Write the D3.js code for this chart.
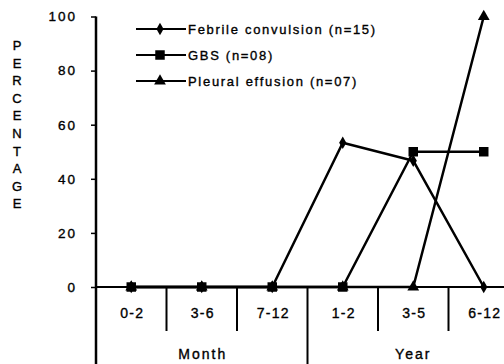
<!DOCTYPE html>
<html>
<head>
<meta charset="utf-8">
<script src="https://cdn.jsdelivr.net/npm/d3@7"></script>
<style>
  html, body { margin: 0; padding: 0; background: #fff; }
  svg { display: block; font-family: "Liberation Sans", Arial, sans-serif; }
  text { fill: #000; stroke: #000; stroke-width: 0.35px; }
</style>
</head>
<body>
<svg id="chart" width="504" height="364"></svg>
<script>
// Age groups along the x axis
const categories = ["0-2", "3-6", "7-12", "1-2", "3-5", "6-12"];
// Percentage of cases in each age group
const febrile = [0, 0, 0, 53.3, 46.7, 0];
const gbs = [0, 0, 0, 0, 50, 50];
const pleural = [0, 0, 0, 0, 0, 100];
const yTicks = [0, 20, 40, 60, 80, 100];
const seriesNames = ["Febrile convulsion (n=15)", "GBS (n=08)", "Pleural effusion (n=07)"];
const groupLabels = ["Month", "Year"];

const svg = d3.select("#chart");
const x0 = 96, bw = 70.5;
const x = d3.scaleBand().domain(categories).range([x0, x0 + bw * categories.length]);
const y = d3.scaleLinear().domain([0, 100]).range([287, 16.5]);

// y axis
const yAxis = d3.axisLeft(y).tickValues(yTicks).tickSize(5).tickPadding(14);
const gy = svg.append("g").attr("transform", `translate(${x0},0)`).call(yAxis);
gy.select(".domain").remove();
gy.selectAll("line").attr("stroke", "#000").attr("stroke-width", 1.5);
gy.selectAll("text").attr("font-size", 13.5).attr("letter-spacing", 2)
  .attr("font-family", "Liberation Sans, Arial, sans-serif");
svg.append("line").attr("x1", x0).attr("x2", x0).attr("y1", y(100)).attr("y2", 364)
  .attr("stroke", "#000").attr("stroke-width", 2.5);

// baseline
svg.append("line").attr("x1", x0).attr("x2", 504).attr("y1", y(0)).attr("y2", y(0))
  .attr("stroke", "#000").attr("stroke-width", 2);

// category separators; the month/year boundary runs to the bottom
categories.forEach((c, i) => {
  if (i === 0) return;
  const xs = x(c);
  svg.append("line").attr("x1", xs).attr("x2", xs).attr("y1", y(0))
    .attr("y2", i === 3 ? 364 : 331).attr("stroke", "#000").attr("stroke-width", 2);
});

// category labels
svg.selectAll("text.cat").data(categories).enter().append("text")
  .attr("class", "cat").attr("x", d => x(d) + x.bandwidth() / 2 + 1).attr("y", 318)
  .attr("text-anchor", "middle").attr("font-size", 14).attr("letter-spacing", 1.3).text(d => d);

// group labels
svg.append("text").attr("x", (x(categories[0]) + x(categories[2]) + x.bandwidth()) / 2 + 1).attr("y", 359)
  .attr("text-anchor", "middle").attr("font-size", 14).attr("letter-spacing", 2).text(groupLabels[0]);
svg.append("text").attr("x", x(categories[4]) + x.bandwidth() / 2).attr("y", 359)
  .attr("text-anchor", "middle").attr("font-size", 14).attr("letter-spacing", 2).text(groupLabels[1]);

// vertical axis title, stacked letters
const title = "PERCENTAGE".split("");
svg.selectAll("text.ttl").data(title).enter().append("text")
  .attr("class", "ttl").attr("x", 17).attr("y", (d, i) => 50 + i * 17.6)
  .attr("text-anchor", "middle").attr("font-size", 13).text(d => d);

const cx = i => x(categories[i]) + x.bandwidth() / 2;
const line = d3.line().x((d, i) => cx(i)).y(d => y(d));

const symDiamond = d3.symbol().type(d3.symbolDiamond).size(45);
const symSquare = d3.symbol().type(d3.symbolSquare).size(90);
const symTriangle = d3.symbol().type(d3.symbolTriangle).size(60);

function drawSeries(values, sym) {
  svg.append("path").datum(values).attr("d", line).attr("fill", "none")
    .attr("stroke", "#000").attr("stroke-width", 2.5).attr("stroke-linejoin", "round");
  svg.selectAll(null).data(values).enter().append("path")
    .attr("d", sym).attr("fill", "#000")
    .attr("transform", (d, i) => `translate(${cx(i)},${y(d)})`);
}
drawSeries(febrile, symDiamond);
drawSeries(pleural, symTriangle);
drawSeries(gbs, symSquare);

// legend
const legSyms = [symDiamond, symSquare, symTriangle];
seriesNames.forEach((name, i) => {
  const ly = 29 + i * 26;
  svg.append("line").attr("x1", 136).attr("x2", 186).attr("y1", ly).attr("y2", ly)
    .attr("stroke", "#000").attr("stroke-width", 2);
  svg.append("path").attr("d", legSyms[i]).attr("fill", "#000")
    .attr("transform", `translate(160,${ly})`);
  svg.append("text").attr("x", 188).attr("y", ly + 4.5).attr("font-size", 13)
    .attr("letter-spacing", 1.7).text(name);
});
</script>
</body>
</html>
